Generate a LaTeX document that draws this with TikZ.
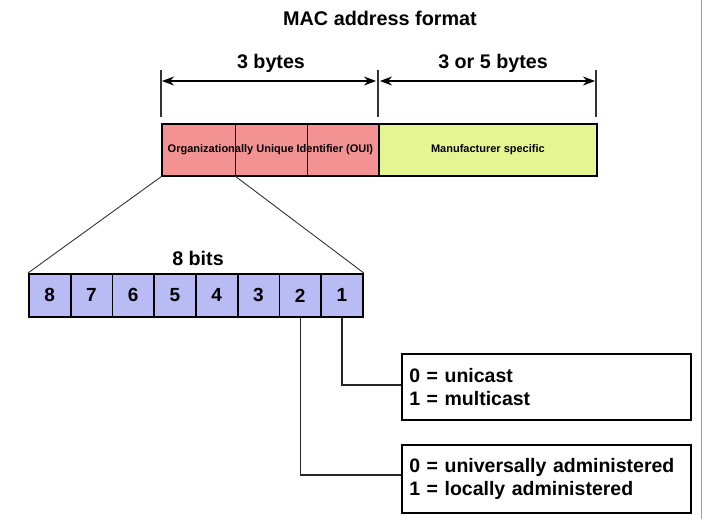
\documentclass[tikz,border=0pt]{standalone}
\usepackage{fontspec}
\setmainfont{Liberation Sans}
\usetikzlibrary{arrows.meta}
\definecolor{ouipink}{RGB}{242,146,146}
\definecolor{mfgreen}{RGB}{229,245,145}
\definecolor{bitblue}{RGB}{184,187,244}
\definecolor{edgegreen}{RGB}{140,180,70}
\begin{document}
\begin{tikzpicture}[x=1pt,y=-1pt,
  field/.style={draw=black,line width=1.8pt,minimum height=52pt,inner sep=0pt,anchor=north west},
  bitbox/.style={draw=black,line width=1.8pt,fill=bitblue,minimum width=41.75pt,minimum height=43pt,inner sep=0pt,anchor=north west,font=\bfseries\fontsize{19}{21}\selectfont},
  infobox/.style={draw=black,line width=1.8pt,fill=white,minimum width=289pt,inner sep=0pt,anchor=north west,align=left,text width=274pt,font=\bfseries\fontsize{19.5}{23.5}\selectfont},
  lbl/.style={font=\bfseries\fontsize{19.7}{22}\selectfont},
  tick/.style={line width=1.2pt,draw=black!80},
  dim/.style={line width=1.2pt,{Stealth[length=12pt,width=9pt]}-{Stealth[length=12pt,width=9pt]}},
  conn/.style={line width=1.5pt,draw=black!85},
  fan/.style={line width=0.9pt,draw=black!80}]
\useasboundingbox (0,0) rectangle (702,519);
\draw[edgegreen,line width=1pt] (701,0) -- (701,519);
\node[font=\bfseries\fontsize{19.8}{22}\selectfont] (title) at (380,18) {MAC address format};
% fields
\node[field,fill=ouipink,minimum width=217pt] (oui) at (161,123) {};
\node[field,fill=mfgreen,minimum width=218pt] (mfg) at (378,123) {};
\draw[line width=1pt] (235,123) -- (235,175);
\draw[line width=1pt] (307,123) -- (307,175);
\node[font=\bfseries\fontsize{11}{12}\selectfont] (ouitext) at (oui.center) {Organizationally Unique Identifier (OUI)};
\node[font=\bfseries\fontsize{11}{12}\selectfont] (mfgtext) at (mfg.center) {Manufacturer specific};
% dimension lines
\coordinate (t1) at (161,70); \coordinate (t1b) at (161,117);
\coordinate (t2) at (378,70); \coordinate (t2b) at (378,117);
\coordinate (t3) at (596,70); \coordinate (t3b) at (596,117);
\draw[tick] (t1) -- (t1b);
\draw[tick] (t2) -- (t2b);
\draw[tick] (t3) -- (t3b);
\draw[dim] (162,81) -- (376,81);
\draw[dim] (380,81) -- (595,81);
\node[lbl] (b3) at (271,63) {3 bytes};
\node[lbl] (b35) at (493,63) {3 or 5 bytes};
% bits
\foreach \n [count=\i from 0] in {8,7,6,5,4,3,2,1} {
  \node[bitbox] (bit\n) at ({28+41.75*\i},273) {\n};
}
\node[lbl] (bits) at (198,258) {8 bits};
% fan
\draw[fan] (oui.south west) -- (bit8.north west);
\draw[fan] (235,176) -- (bit1.north east);
% info boxes
\node[infobox,minimum height=66pt] (cast) at (401,353) {0 = unicast\\1 = multicast};
\node[infobox,minimum height=68pt] (admin) at (401,444) {0 = universally administered\\1 = locally administered};
\draw[conn] (bit1.south) |- (cast.west |- 0,385);
\draw[conn] (bit2.south) |- (admin.west |- 0,475);
\end{tikzpicture}
\end{document}
